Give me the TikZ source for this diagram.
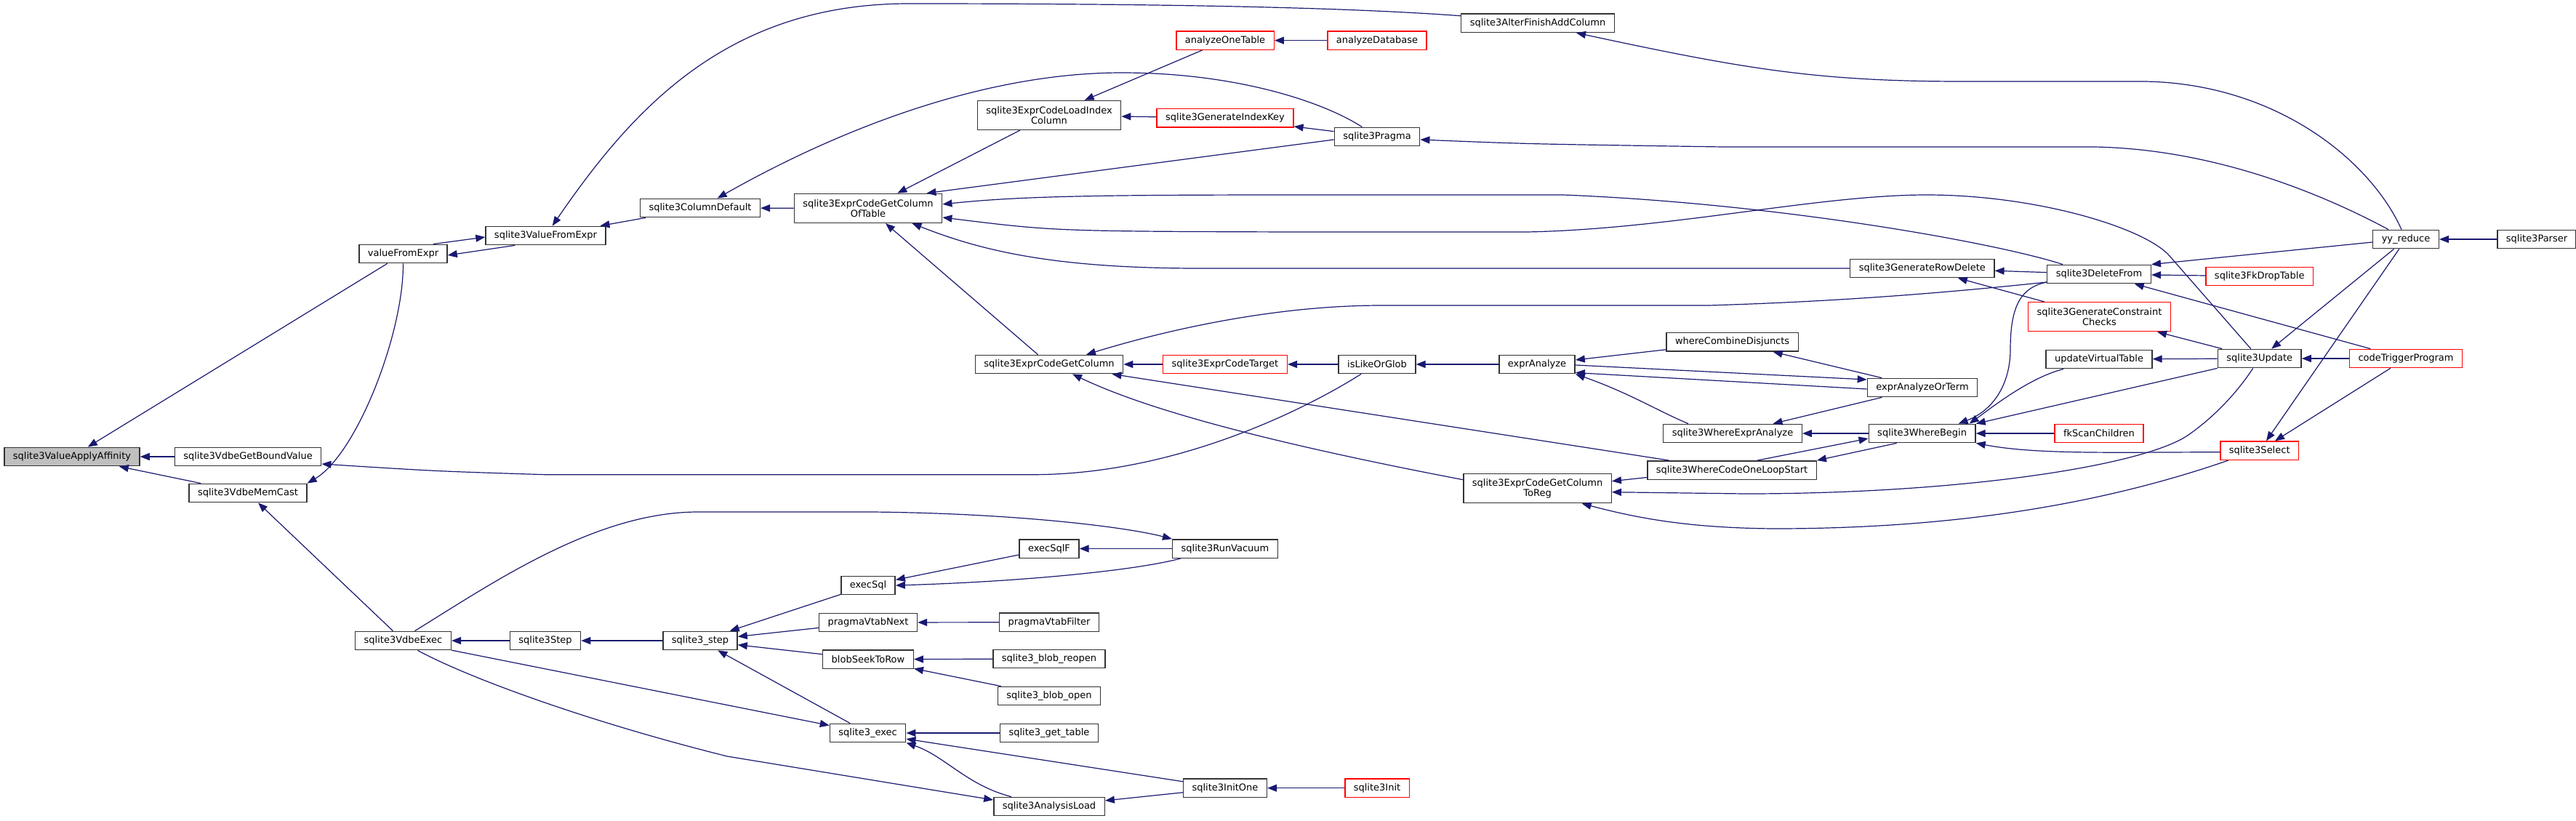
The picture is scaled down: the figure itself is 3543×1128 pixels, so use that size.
\documentclass[tikz,border=0pt]{standalone}
\usepackage{fontspec}
\setmainfont{DejaVu Sans}
\usetikzlibrary{arrows.meta}
\definecolor{edgeblue}{HTML}{191970}
\definecolor{rootgray}{HTML}{BFBFBF}
\tikzset{
  fn/.style={draw=black!80, fill=white, line width=1.4pt, minimum height=25.4pt,
    inner xsep=12pt, inner ysep=2pt, font=\fontsize{13}{14.5}\selectfont},
  fnred/.style={fn, draw=red},
  fnroot/.style={fn, fill=rootgray},
  fntwo/.style={fn, align=center, minimum height=40pt},
  call/.style={draw=edgeblue, line width=1.2pt, {Triangle[length=13pt,width=10pt]}-}
}
\begin{document}
\begin{tikzpicture}[x=1pt,y=-1pt]
\useasboundingbox (0,0) rectangle (3543,1128);
% nodi, colonna per colonna
\node[fnroot] (affin) at (99,628) {sqlite3ValueApplyAffinity};
\node[fn] (boundv) at (341,628) {sqlite3VdbeGetBoundValue};
\node[fn] (memcast) at (341,678) {sqlite3VdbeMemCast};
\node[fn] (valfe) at (554.5,349) {valueFromExpr};
\node[fn] (vdbeexec) at (554.5,881) {sqlite3VdbeExec};
\node[fn] (s3valfe) at (750.5,324) {sqlite3ValueFromExpr};
\node[fn] (s3step) at (750,881) {sqlite3Step};
\node[fn] (coldef) at (963,286) {sqlite3ColumnDefault};
\node[fn] (apistep) at (963,881) {sqlite3\_step};
\node[fntwo] (oftable) at (1194,286.4) {sqlite3ExprCodeGetColumn\\OfTable};
\node[fn] (execsql) at (1194,805) {execSql};
\node[fn] (vtabnext) at (1194,856) {pragmaVtabNext};
\node[fn] (seekrow) at (1194,906.7) {blobSeekToRow};
\node[fn] (apiexec) at (1193.6,1008) {sqlite3\_exec};
\node[fntwo] (loadidx) at (1443,158.5) {sqlite3ExprCodeLoadIndex\\Column};
\node[fn] (getcol) at (1443,501) {sqlite3ExprCodeGetColumn};
\node[fn] (execsqlf) at (1443,754.5) {execSqlF};
\node[fn] (vtabfilter) at (1443,855.7) {pragmaVtabFilter};
\node[fn] (reopen) at (1443,906) {sqlite3\_blob\_reopen};
\node[fn] (blobopen) at (1443,957) {sqlite3\_blob\_open};
\node[fn] (gettable) at (1443,1008) {sqlite3\_get\_table};
\node[fn] (aload) at (1443,1109) {sqlite3AnalysisLoad};
\node[fnred] (onetable) at (1685,55.6) {analyzeOneTable};
\node[fnred] (idxkey) at (1685,162.3) {sqlite3GenerateIndexKey};
\node[fnred] (target) at (1685,501) {sqlite3ExprCodeTarget};
\node[fn] (vacuum) at (1685,754.5) {sqlite3RunVacuum};
\node[fn] (initone) at (1685,1083.7) {sqlite3InitOne};
\node[fnred] (anadb) at (1894,55.6) {analyzeDatabase};
\node[fn] (pragma) at (1894,188) {sqlite3Pragma};
\node[fn] (likeglob) at (1894,501) {isLikeOrGlob};
\node[fnred] (init) at (1894,1083.7) {sqlite3Init};
\node[fn] (alter) at (2115,31.8) {sqlite3AlterFinishAddColumn};
\node[fn] (expran) at (2114,501) {exprAnalyze};
\node[fntwo] (toreg) at (2114.6,671.7) {sqlite3ExprCodeGetColumn\\ToReg};
\node[fn] (disj) at (2382.6,470.4) {whereCombineDisjuncts};
\node[fn] (wexpr) at (2383,596) {sqlite3WhereExprAnalyze};
\node[fn] (loopstart) at (2382,646.5) {sqlite3WhereCodeOneLoopStart};
\node[fn] (rowdel) at (2643.8,369) {sqlite3GenerateRowDelete};
\node[fn] (orterm) at (2644,533) {exprAnalyzeOrTerm};
\node[fn] (wbegin) at (2643.6,596) {sqlite3WhereBegin};
\node[fn] (delfrom) at (2887,377) {sqlite3DeleteFrom};
\node[fntwo,draw=red] (constr) at (2887.5,435.7) {sqlite3GenerateConstraint\\Checks};
\node[fn] (vtabupd) at (2887,494) {updateVirtualTable};
\node[fnred] (fkscan) at (2887,596) {fkScanChildren};
\node[fnred] (fkdrop) at (3107.7,380) {sqlite3FkDropTable};
\node[fn] (update) at (3107.7,493) {sqlite3Update};
\node[fnred] (select) at (3107.7,619.7) {sqlite3Select};
\node[fn] (yyred) at (3309,329) {yy\_reduce};
\node[fnred] (trigprog) at (3309,493) {codeTriggerProgram};
\node[fn] (parser) at (3489,329) {sqlite3Parser};

% chiamanti della radice
\draw[call] (affin) -- (valfe);
\draw[call] (affin) -- (boundv);
\draw[call] (affin) -- (memcast);
\draw[call] (memcast.north east) .. controls (490,625) and (555,460) .. (valfe.south);
\draw[call] (memcast) -- (vdbeexec);
\draw[call] ([yshift=-2pt]s3valfe.west) -- ([xshift=-20pt]valfe.north east);
\draw[call] ([yshift=-2pt]valfe.east) -- ([xshift=41pt]s3valfe.south west);
\draw[call] (s3valfe) -- (coldef);
\draw[call] (s3valfe) .. controls (870,150) and (1000,5) .. (1250,5) .. controls (1600,5) and (1850,10) .. ([yshift=10pt]alter.west);
\draw[call] ([yshift=-10pt]boundv.east) .. controls (600,648) .. (750,652.7) -- (1420,652.7) .. controls (1620,652.7) and (1800,560) .. ([xshift=-22pt]likeglob.south);

% ramo di sqlite3ColumnDefault
\draw[call] (coldef) -- (oftable);
\draw[call] (coldef) .. controls (1150,180) and (1350,100) .. (1543,100) .. controls (1700,100) and (1820,140) .. (pragma);
\draw[call] (oftable) -- (loadidx);
\draw[call] ([xshift=-22pt]oftable.north east) -- ([yshift=-4pt]pragma.west);
\draw[call] ([yshift=5.5pt]oftable.east) .. controls (1400,270) and (1500,268) .. (1780,268) -- (2150,268) .. controls (2450,280) and (2750,335) .. ([xshift=-50pt]delfrom.north);
\draw[call] ([yshift=-12.6pt]oftable.east) .. controls (1450,318) .. (1780,319) -- (2100,319) .. controls (2300,315) and (2500,268) .. (2650,268) .. controls (2800,268) and (2950,313) .. (2984,352) -- ([xshift=-12pt]update.north);
\draw[call] ([xshift=-42pt]oftable.south east) .. controls (1350,345) and (1450,369) .. (1650,369) -- (rowdel.west);
\draw[call] (oftable) -- (getcol);
\draw[call] (loadidx) -- (onetable);
\draw[call] (loadidx) -- (idxkey);
\draw[call] (onetable) -- (anadb);
\draw[call] (idxkey) -- (pragma);
\draw[call] ([xshift=53pt]alter.south) .. controls (2400,95) and (2500,112) .. (2700,112) -- (2950,112) .. controls (3130,115) and (3260,220) .. (yyred);
\draw[call] ([yshift=-4pt]pragma.east) .. controls (2100,198) .. (2370,202) -- (2880,202) .. controls (3050,205) and (3200,270) .. ([xshift=-24pt]yyred.north);

% ramo di sqlite3ExprCodeGetColumn
\draw[call] (getcol) -- (target);
\draw[call] ([xshift=51pt]getcol.north) .. controls (1600,455) and (1750,420) .. (1900,420) -- (2350,420) .. controls (2550,414) and (2700,400) .. ([yshift=-11pt]delfrom.west);
\draw[call] (getcol) -- (loopstart);
\draw[call] ([xshift=32pt]getcol.south) .. controls (1560,555) and (1700,600) .. ([yshift=12pt]toreg.west);
\draw[call] (target) -- (likeglob);
\draw[call] (likeglob) -- (expran);
\draw[call] (expran) -- (disj);
\draw[call] ([yshift=11pt]orterm.west) -- ([yshift=-1pt]expran.east);
\draw[call] ([yshift=-11.5pt]expran.east) -- ([yshift=-2pt]orterm.west);
\draw[call] (expran.south east) .. controls (2240,540) and (2280,565) .. ([xshift=-61pt]wexpr.north);
\draw[call] (disj) -- (orterm);
\draw[call] (wexpr) -- (orterm);
\draw[call] (wexpr) -- (wbegin);
\draw[call] ([yshift=-7pt]wbegin.west) -- ([xshift=35pt]loopstart.north);
\draw[call] (loopstart.north east) -- ([xshift=-35pt]wbegin.south);
\draw[call] (wbegin) -- (fkscan);
\draw[call] (wbegin.south east) .. controls (2800,625) and (2900,622) .. ([yshift=-2pt]select.west);
\draw[call] ([xshift=50pt]wbegin.north) .. controls (2740,565) and (2765,530) .. (2765,480) .. controls (2765,420) and (2780,395) .. ([yshift=-11pt]delfrom.west);
\draw[call] ([xshift=65pt]wbegin.north) .. controls (2740,560) and (2790,520) .. ([xshift=-49pt]vtabupd.south);
\draw[call] (wbegin.north east) -- (update.south west);
\draw[call] ([yshift=10pt]toreg.east) -- ([yshift=-10pt]loopstart.west);
\draw[call] ([yshift=-5pt]toreg.east) -- (2400,679) .. controls (2700,679) and (2950,640) .. (3010,598) .. controls (3050,570) and (3080,535) .. ([xshift=-9pt]update.south);
\draw[call] ([xshift=61pt]toreg.south) .. controls (2250,712) and (2320,726) .. (2440,727) .. controls (2700,727) and (2900,690) .. ([xshift=-43pt]select.south);

% parte destra: delete, update, parser
\draw[call] (rowdel) -- (delfrom);
\draw[call] (rowdel) -- (constr);
\draw[call] (delfrom.north east) -- ([yshift=-4pt]yyred.west);
\draw[call] (delfrom) -- (fkdrop);
\draw[call] (delfrom) -- (trigprog);
\draw[call] (constr) -- (update);
\draw[call] (vtabupd) -- (update);
\draw[call] (update) -- (yyred);
\draw[call] (update) -- (trigprog);
\draw[call] (yyred) -- (parser);
\draw[call] (select) -- (yyred);
\draw[call] (select) -- (trigprog);

% ramo di sqlite3VdbeExec
\draw[call] (vdbeexec) -- (s3step);
\draw[call] (s3step) -- (apistep);
\draw[call] (vacuum.north west) .. controls (1550,725) and (1400,706) .. (1200,704) -- (960,704) .. controls (820,704) and (680,800) .. ([xshift=16pt]vdbeexec.north);
\draw[call] (execsqlf) -- (vacuum);
\draw[call] (execsql) -- (execsqlf);
\draw[call] (execsql.east) .. controls (1400,800) and (1560,785) .. ([xshift=-61pt]vacuum.south);
\draw[call] (apistep) -- (execsql);
\draw[call] (apistep) -- (vtabnext);
\draw[call] (apistep) -- (seekrow);
\draw[call] (apistep) -- (apiexec);
\draw[call] (vtabnext) -- (vtabfilter);
\draw[call] (seekrow) -- (reopen);
\draw[call] (seekrow) -- (blobopen);
\draw[call] (apiexec) -- (gettable);
\draw[call] (apiexec) -- (initone);
\draw[call] (apiexec.south east) .. controls (1300,1040) and (1330,1080) .. ([xshift=-52pt]aload.north);
\draw[call] (apiexec) -- (vdbeexec);
\draw[call] ([yshift=9pt]aload.west) -- (1000,1040) .. controls (800,990) and (640,930) .. ([xshift=20pt]vdbeexec.south);
\draw[call] (aload) -- (initone);
\draw[call] (initone) -- (init);
\end{tikzpicture}
\end{document}
